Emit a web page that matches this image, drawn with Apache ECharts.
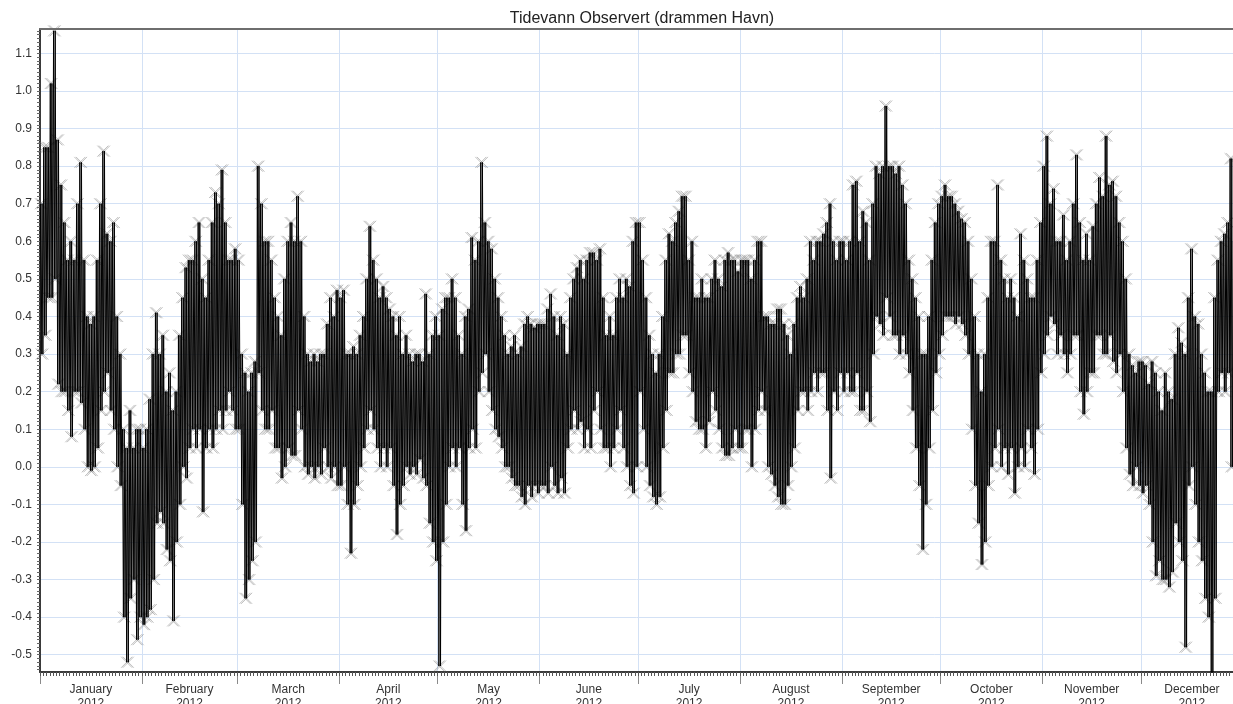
<!DOCTYPE html>
<html>
<head>
<meta charset="utf-8">
<title>Tidevann Observert (drammen Havn)</title>
<script src="https://cdn.jsdelivr.net/npm/echarts@6/dist/echarts.min.js"></script>
<style>
  html, body { margin: 0; padding: 0; background: #fff; }
  #main { width: 1233px; height: 704px; }
</style>
</head>
<body>
<div id="main"></div>
<script>
// maaned-navn og antall dager (2012 er skuddaar)
var months = ['January', 'February', 'March', 'April', 'May', 'June',
  'July', 'August', 'September', 'October', 'November', 'December'];
var daysInMonth = [31, 29, 31, 30, 31, 30, 31, 31, 30, 31, 30, 31];
var year = 2012;
var yTicks = [-0.5, -0.4, -0.3, -0.2, -0.1, 0.0, 0.1, 0.2, 0.3, 0.4, 0.5, 0.6, 0.7, 0.8, 0.9, 1.0, 1.1];

// daglig hoyvann (m), lest av figuren
var dailyHigh = [
  // jan
  0.70,0.85,0.85,1.02,1.16,0.87,0.75,0.65,0.55,0.60,0.55,0.70,0.81,0.55,0.40,0.38,0.40,0.55,0.70,0.84,0.62,0.60,0.65,0.40,0.30,0.10,0.05,0.15,0.05,0.10,0.10,
  // feb
  0.05,0.10,0.18,0.30,0.41,0.30,0.35,0.20,0.25,0.15,0.20,0.35,0.45,0.53,0.55,0.55,0.60,0.65,0.50,0.45,0.55,0.65,0.73,0.70,0.79,0.65,0.55,0.55,0.58,
  // mar
  0.55,0.30,0.25,0.20,0.25,0.28,0.80,0.70,0.60,0.60,0.55,0.45,0.40,0.35,0.50,0.60,0.65,0.60,0.72,0.60,0.40,0.30,0.28,0.30,0.28,0.30,0.30,0.38,0.45,0.40,0.47,
  // apr
  0.45,0.47,0.30,0.30,0.32,0.30,0.35,0.40,0.50,0.64,0.55,0.50,0.45,0.48,0.45,0.42,0.40,0.35,0.40,0.30,0.35,0.30,0.28,0.30,0.30,0.28,0.46,0.30,0.35,0.40,
  // mai
  0.35,0.42,0.45,0.45,0.50,0.45,0.35,0.30,0.40,0.42,0.61,0.55,0.60,0.81,0.65,0.60,0.58,0.50,0.45,0.40,0.35,0.30,0.32,0.35,0.30,0.32,0.38,0.40,0.38,0.37,0.38,
  // jun
  0.38,0.38,0.42,0.46,0.40,0.35,0.40,0.38,0.30,0.45,0.50,0.53,0.55,0.50,0.55,0.57,0.57,0.55,0.58,0.45,0.35,0.40,0.35,0.45,0.50,0.45,0.50,0.48,0.60,0.65,
  // jul
  0.65,0.55,0.45,0.35,0.30,0.25,0.30,0.40,0.55,0.62,0.60,0.65,0.68,0.72,0.72,0.55,0.60,0.45,0.45,0.50,0.45,0.45,0.50,0.55,0.50,0.48,0.55,0.57,0.55,0.55,0.52,
  // aug
  0.55,0.55,0.55,0.50,0.55,0.60,0.60,0.40,0.40,0.38,0.38,0.42,0.42,0.38,0.35,0.30,0.38,0.45,0.48,0.45,0.50,0.60,0.55,0.60,0.60,0.62,0.65,0.70,0.60,0.55,0.60,
  // sep
  0.60,0.55,0.60,0.75,0.76,0.60,0.68,0.65,0.55,0.70,0.80,0.78,0.80,0.96,0.80,0.80,0.78,0.80,0.75,0.70,0.55,0.50,0.45,0.40,0.30,0.30,0.40,0.55,0.65,0.70,
  // okt
  0.72,0.75,0.72,0.72,0.70,0.68,0.66,0.65,0.60,0.50,0.40,0.30,0.20,0.30,0.45,0.60,0.60,0.75,0.55,0.50,0.45,0.50,0.45,0.40,0.62,0.55,0.50,0.45,0.45,0.55,0.65,
  // nov
  0.80,0.88,0.70,0.74,0.60,0.60,0.67,0.55,0.60,0.70,0.83,0.65,0.55,0.62,0.55,0.64,0.70,0.77,0.72,0.88,0.75,0.76,0.72,0.65,0.60,0.50,0.30,0.27,0.25,0.28,
  // des
  0.28,0.27,0.22,0.28,0.25,0.20,0.15,0.25,0.20,0.18,0.30,0.37,0.33,0.30,0.45,0.58,0.40,0.38,0.30,0.25,0.20,0.20,0.45,0.55,0.60,0.62,0.65,0.82,0.60
];

// daglig lavvann (m)
var dailyLow = [
  // jan
  0.30,0.35,0.45,0.45,0.50,0.22,0.20,0.20,0.15,0.08,0.20,0.20,0.17,0.10,0.00,-0.01,0.00,0.05,0.15,0.20,0.25,0.15,0.10,0.00,-0.05,-0.40,-0.52,-0.35,-0.30,-0.46,-0.40,
  // feb
  -0.42,-0.40,-0.38,-0.30,-0.15,-0.12,-0.15,-0.22,-0.25,-0.41,-0.20,-0.10,0.00,-0.03,0.05,0.10,0.05,0.10,-0.12,0.05,0.10,0.05,0.10,0.15,0.10,0.15,0.20,0.15,0.10,
  // mar
  0.10,-0.10,-0.35,-0.30,-0.25,-0.20,0.25,0.15,0.10,0.10,0.15,0.05,0.05,-0.03,0.00,0.05,0.03,0.03,0.15,0.10,0.00,-0.02,0.00,-0.03,0.00,-0.02,0.05,0.00,-0.03,0.00,-0.05,
  // apr
  -0.05,0.00,-0.10,-0.23,-0.10,-0.05,0.00,0.05,0.10,0.15,0.10,0.05,0.00,0.05,0.00,0.05,-0.05,-0.18,-0.10,-0.05,0.00,-0.02,0.00,-0.02,0.02,-0.03,-0.05,-0.15,-0.20,-0.25,
  // mai
  -0.53,-0.20,-0.10,0.00,0.05,0.00,0.05,-0.10,-0.17,0.05,0.10,0.05,0.20,0.25,0.30,0.20,0.15,0.10,0.08,0.05,0.00,0.00,-0.03,-0.05,-0.05,-0.08,-0.10,-0.05,-0.08,-0.05,-0.07,
  // jun
  -0.05,-0.05,-0.07,0.00,-0.05,-0.07,-0.03,-0.07,0.05,0.10,0.15,0.10,0.12,0.05,0.10,0.05,0.15,0.20,0.10,0.05,0.05,0.00,0.05,0.10,0.15,0.05,0.00,-0.05,-0.07,0.00,
  // jul
  0.20,0.10,0.00,-0.05,-0.08,-0.10,-0.08,0.05,0.15,0.25,0.25,0.30,0.30,0.35,0.35,0.25,0.20,0.12,0.10,0.10,0.05,0.12,0.20,0.15,0.10,0.05,0.03,0.03,0.05,0.10,0.05,
  // aug
  0.05,0.10,0.10,0.00,0.10,0.15,0.20,0.15,0.00,-0.02,-0.05,-0.08,-0.10,-0.10,-0.05,0.00,0.05,0.15,0.20,0.20,0.15,0.20,0.25,0.20,0.25,0.25,0.15,-0.03,0.20,0.15,0.25,
  // sep
  0.20,0.25,0.20,0.20,0.25,0.15,0.15,0.20,0.12,0.30,0.40,0.38,0.35,0.45,0.40,0.35,0.35,0.30,0.35,0.30,0.25,0.15,0.05,-0.05,-0.22,-0.10,0.05,0.15,0.25,0.30,
  // okt
  0.35,0.40,0.40,0.40,0.38,0.40,0.38,0.35,0.30,0.10,-0.05,-0.15,-0.26,-0.20,-0.05,0.00,0.05,0.10,0.00,0.05,-0.02,0.05,-0.07,0.00,0.05,0.00,0.10,0.05,-0.02,0.10,0.25,
  // nov
  0.30,0.35,0.40,0.38,0.30,0.35,0.30,0.25,0.30,0.35,0.35,0.20,0.14,0.20,0.25,0.25,0.35,0.35,0.30,0.30,0.35,0.28,0.25,0.30,0.20,0.05,-0.02,-0.05,0.00,-0.05,
  // des
  -0.07,-0.05,-0.10,-0.20,-0.29,-0.25,-0.30,-0.30,-0.32,-0.28,-0.15,-0.20,-0.25,-0.48,-0.05,0.00,-0.10,-0.20,-0.25,-0.35,-0.40,-0.55,-0.35,0.20,0.25,0.20,0.25,0.00,0.30
];

var DAY = 24 * 3600 * 1000;
var HOUR = 3600 * 1000;
var t0 = Date.UTC(year, 0, 1);
// synlig utsnitt slutter 29. desember (figuren er kuttet i hoyre kant)
var tEnd = Date.UTC(year, 11, 29);

// to tidevannsperioder per dag: hoy kl 03 og 15, lav kl 09 og 21
var points = [];
for (var i = 0; i < dailyHigh.length; i++) {
  var day = t0 + i * DAY;
  points.push([day + 3 * HOUR, dailyHigh[i]]);
  points.push([day + 9 * HOUR, dailyLow[i]]);
  points.push([day + 15 * HOUR, dailyHigh[i]]);
  points.push([day + 21 * HOUR, dailyLow[i]]);
}

// maanedsgrenser, midten av maaneden (for etiketter), dagsticks
var monthStarts = [];
var monthMids = [];
for (var m = 0; m < 12; m++) {
  var s = Date.UTC(year, m, 1);
  monthStarts.push(s);
  monthMids.push(s + daysInMonth[m] * DAY / 2);
}
var dayTicks = [];
for (var d = 0; d <= 363; d++) dayTicks.push(t0 + d * DAY);
var yMinorTicks = [];
for (var k = -54; k <= 116; k++) yMinorTicks.push(k / 100);

var font = '"Liberation Sans", Arial, Helvetica, sans-serif';
var gridColor = '#d3e1f5';

var myChart = echarts.init(document.getElementById('main'));
myChart.setOption({
  animation: false,
  backgroundColor: '#fff',
  title: {
    text: 'Tidevann Observert (drammen Havn)',
    left: 642,
    top: 11,
    padding: 0,
    textAlign: 'center',
    textStyle: { fontFamily: font, fontSize: 16, fontWeight: 'normal', color: '#222' }
  },
  grid: {
    left: 40, right: 0, top: 29, bottom: 32,
    containLabel: false,
    outerBoundsMode: 'none'
  },
  xAxis: [
    {
      // tid som millisekunder paa en verdiakse
      type: 'value',
      min: t0,
      max: tEnd,
      axisLine: { show: true, onZero: false, lineStyle: { color: '#3a3a3a', width: 2 } },
      axisTick: { show: true, customValues: monthStarts, length: 12, lineStyle: { color: '#8a8a8a' } },
      axisLabel: {
        customValues: monthMids,
        margin: 11,
        fontFamily: font,
        fontSize: 12,
        lineHeight: 14,
        color: '#333',
        formatter: function (v) {
          return months[new Date(v).getUTCMonth()] + '\n' + year;
        }
      },
      splitLine: { show: true, lineStyle: { color: gridColor, width: 1 } }
    },
    {
      type: 'value',
      position: 'bottom',
      min: t0,
      max: tEnd,
      axisLine: { show: false, onZero: false },
      axisTick: { show: true, customValues: dayTicks, length: 4, lineStyle: { color: '#555' } },
      axisLabel: { show: false },
      splitLine: { show: false }
    },
    {
      // ramme langs toppen
      type: 'value',
      position: 'top',
      min: t0,
      max: tEnd,
      axisLine: { show: true, onZero: false, lineStyle: { color: '#6e6e6e', width: 2 } },
      axisTick: { show: false },
      axisLabel: { show: false },
      splitLine: { show: false }
    }
  ],
  yAxis: [
    {
      type: 'value',
      min: -0.546,
      max: 1.165,
      axisLine: { show: true, onZero: false, lineStyle: { color: '#3a3a3a', width: 2 } },
      axisTick: { show: false, customValues: yTicks },
      axisLabel: {
        customValues: yTicks,
        margin: 8,
        fontFamily: font,
        fontSize: 12,
        color: '#333',
        formatter: function (v) { return v.toFixed(1); }
      },
      splitLine: { show: true, lineStyle: { color: gridColor, width: 1 } }
    },
    {
      type: 'value',
      position: 'left',
      min: -0.546,
      max: 1.165,
      axisLine: { show: false },
      axisTick: { show: true, customValues: yMinorTicks, length: 3, lineStyle: { color: '#666' } },
      axisLabel: { show: false },
      splitLine: { show: false }
    }
  ],
  series: [
    {
      name: 'kryss',
      type: 'scatter',
      xAxisIndex: 0,
      yAxisIndex: 0,
      data: points,
      symbol: 'path://M0,0L10,10M10,0L0,10',
      symbolSize: 11,
      itemStyle: { color: 'rgba(0,0,0,0)', borderColor: 'rgba(110,110,110,0.55)', borderWidth: 1 },
      z: 2
    },
    {
      name: 'Tidevann',
      type: 'line',
      xAxisIndex: 0,
      yAxisIndex: 0,
      data: points,
      showSymbol: false,
      lineStyle: { color: '#000', width: 1 },
      z: 3
    }
  ]
});
</script>
</body>
</html>
